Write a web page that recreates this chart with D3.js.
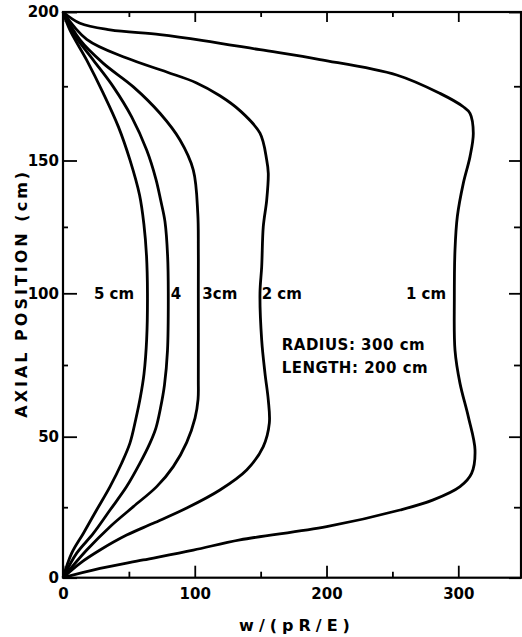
<!DOCTYPE html>
<html>
<head>
<meta charset="utf-8">
<script src="https://cdn.jsdelivr.net/npm/d3@7"></script>
<style>
    body { margin: 0; background: #fff; }
    svg { display: block; }
    text { font-family: "DejaVu Sans", sans-serif; font-weight: bold; fill: #000; }
</style>
</head>
<body>
<div id="chart"></div>
<script>
// curves: [w/(pR/E), axial position cm]
var curve1cm = [[0, 0], [28.1, 3.3], [60.9, 6.3], [98.9, 9.8], [134.3, 13.4], [200.1, 18.1], [255.8, 24], [281, 27.6],
    [301.3, 32.3], [310.1, 37], [312.7, 45.3], [307.6, 57], [301.3, 68.6], [297.5, 80.2], [297, 97.7], [297.5, 116.3],
    [299.3, 129], [303.8, 141.4], [308.9, 151.3], [311.4, 159.2], [308.9, 165.9], [303.8, 168.1], [286.1, 172.6],
    [253.2, 178.8], [195, 184], [149.5, 187.3], [106.5, 190.4], [73.6, 192.4], [35.7, 194], [12.9, 196.2], [0, 200]];
var curve2cm = [[0, 0], [12.9, 5.1], [28.1, 9.8], [48.3, 15.1], [68.5, 19.3], [93.9, 24.7], [119.1, 31.1], [139.4, 38.2],
    [152, 46.5], [156.6, 54.7], [155.8, 62.8], [153.3, 72.1], [150.8, 83.7], [149.5, 100], [150.8, 110], [152, 125.1],
    [154.6, 135.1], [155.8, 145.2], [154.6, 150.2], [149.5, 159.2], [134.3, 166.8], [119.1, 171.8], [101, 176.2],
    [78.7, 179.8], [48.3, 184.5], [18, 190.8], [0, 200]];
var curve3cm = [[0, 0], [18, 9.8], [35.7, 18.1], [53.4, 25.2], [71.1, 32.3], [83.7, 39.4], [93.9, 48], [100.2, 56.5],
    [102.5, 63], [102.7, 70], [102.7, 100], [102.7, 116.3], [102.3, 130], [98.9, 146.4], [88.8, 156.9],
    [73.6, 165.9], [53.4, 174.8], [30.6, 182.7], [12.9, 190.6], [0, 200]];
var curve4cm = [[0, 0], [10.4, 8.7], [23, 15.7], [35.7, 24], [48.3, 32.3], [58.4, 40.6], [66, 47.7], [70.5, 53],
    [74, 60], [77, 68], [79.3, 80], [79.9, 100], [79.4, 114], [77.4, 127], [74.1, 135.1], [70.5, 143], [63.5, 153.5],
    [52.1, 164.7], [38.2, 174.8], [23, 183.8], [7.8, 192.8], [0, 200]];
var curve5cm = [[0, 0], [6.6, 8.7], [15.4, 15.7], [25.5, 24], [35.7, 32.3], [44.5, 40.6], [50.8, 47.7], [55.2, 56],
    [58.8, 64], [61.5, 72], [63.5, 84], [64.1, 100], [63.4, 114], [61.4, 126], [58.1, 137], [50.8, 150.2], [42, 161.4],
    [30.6, 172.6], [18, 183.8], [5.3, 193.9], [0, 200]];

var curves = [curve1cm, curve2cm, curve3cm, curve4cm, curve5cm];
var curveLabels = ["1 cm", "2 cm", "3cm", "4", "5 cm"];
var curveLabelW = [275.5, 166, 119, 85.8, 38.7];

var xTicksMajor = [0, 100, 200, 300];
var xTicksMinor = [50, 150, 250];
var yTicksMajor = [0, 50, 100, 150, 200];
var yTicksMinor = [25, 75, 125, 175];

var width = 522;
var height = 637;

var svg = d3.select("#chart").append("svg")
    .attr("width", width)
    .attr("height", height);

var xScale = d3.scaleLinear()
    .domain([0, 347.6])
    .range([63, 521]);

// the scanned axis is slightly uneven, so follow its tick positions
var yScale = d3.scaleLinear()
    .domain([0, 50, 100, 150, 200])
    .range([577.7, 436.7, 293.3, 160.5, 12]);

var x0 = xScale.range()[0], x1 = xScale.range()[1];
var y0 = 577.7, y1 = 12;

function styleAxis(g) {
    g.select(".domain").remove();
    g.selectAll(".tick line").attr("stroke", "#000").attr("stroke-width", 1.8);
    g.selectAll(".tick text").style("font-size", "15px").attr("fill", "#000");
}

// bottom
svg.append("g").attr("transform", "translate(0," + y0 + ")")
    .call(d3.axisBottom(xScale).tickValues(xTicksMajor).tickSize(-12).tickPadding(8).tickFormat(d3.format("d")))
    .call(styleAxis)
    .selectAll(".tick text").attr("dy", "0.9em");
svg.append("g").attr("transform", "translate(0," + y0 + ")")
    .call(d3.axisBottom(xScale).tickValues(xTicksMinor).tickSize(-6).tickFormat(""))
    .call(styleAxis);
// top
svg.append("g").attr("transform", "translate(0," + y1 + ")")
    .call(d3.axisTop(xScale).tickValues(xTicksMajor).tickSize(-10).tickFormat(""))
    .call(styleAxis);
svg.append("g").attr("transform", "translate(0," + y1 + ")")
    .call(d3.axisTop(xScale).tickValues(xTicksMinor).tickSize(-5).tickFormat(""))
    .call(styleAxis);
// left
svg.append("g").attr("transform", "translate(" + x0 + ",0)")
    .call(d3.axisLeft(yScale).tickValues(yTicksMajor).tickSize(-14).tickPadding(4).tickFormat(d3.format("d")))
    .call(styleAxis);
svg.append("g").attr("transform", "translate(" + x0 + ",0)")
    .call(d3.axisLeft(yScale).tickValues(yTicksMinor).tickSize(-5).tickFormat(""))
    .call(styleAxis);
// right
svg.append("g").attr("transform", "translate(" + x1 + ",0)")
    .call(d3.axisRight(yScale).tickValues(yTicksMajor).tickSize(-12).tickFormat(""))
    .call(styleAxis);
svg.append("g").attr("transform", "translate(" + x1 + ",0)")
    .call(d3.axisRight(yScale).tickValues(yTicksMinor).tickSize(-7).tickFormat(""))
    .call(styleAxis);

// frame
svg.append("rect")
    .attr("x", x0)
    .attr("y", y1)
    .attr("width", x1 - x0)
    .attr("height", y0 - y1)
    .attr("fill", "none")
    .attr("stroke", "#000")
    .attr("stroke-width", 2.2);

var line = d3.line()
    .x(function (d) { return xScale(d[0]); })
    .y(function (d) { return yScale(d[1]); })
    .curve(d3.curveCatmullRom.alpha(0.5));

svg.append("g").selectAll("path")
    .data(curves)
    .enter()
    .append("path")
    .attr("d", line)
    .attr("fill", "none")
    .attr("stroke", "#000")
    .attr("stroke-width", 2.8)
    .attr("stroke-linejoin", "round");

svg.append("g").selectAll("text")
    .data(curveLabels)
    .enter()
    .append("text")
    .attr("x", function (d, i) { return xScale(curveLabelW[i]); })
    .attr("y", yScale(100))
    .attr("dy", "0.36em")
    .attr("text-anchor", "middle")
    .style("font-size", "15px")
    .text(function (d) { return d; });

svg.append("text")
    .attr("x", xScale(166))
    .attr("y", yScale(82))
    .attr("dy", "0.36em")
    .style("font-size", "15px")
    .style("letter-spacing", "0.5px")
    .text("RADIUS:  300 cm");
svg.append("text")
    .attr("x", xScale(166))
    .attr("y", yScale(74))
    .attr("dy", "0.36em")
    .style("font-size", "15px")
    .style("letter-spacing", "0.5px")
    .text("LENGTH: 200 cm");

// axis titles
svg.append("text")
    .attr("transform", "translate(27," + yScale(100) + ") rotate(-90)")
    .attr("text-anchor", "middle")
    .style("font-size", "16px")
    .style("letter-spacing", "3px")
    .text("AXIAL POSITION (cm)");

svg.append("text")
    .attr("x", 297)
    .attr("y", 631)
    .attr("text-anchor", "middle")
    .style("font-size", "16px")
    .style("letter-spacing", "5px")
    .text("w/(pR/E)");
</script>
</body>
</html>
